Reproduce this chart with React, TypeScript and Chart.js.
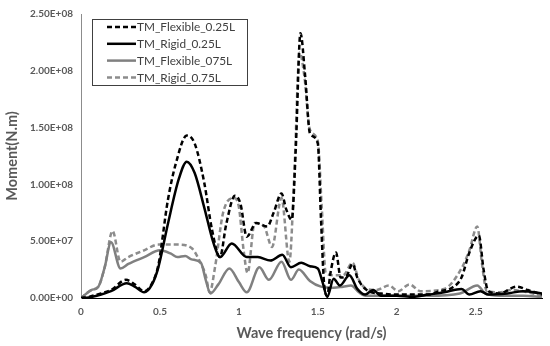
import { useEffect, useRef } from "react";
import { Chart, registerables } from "chart.js";

Chart.register(...registerables);

// Frequencies (rad/s) and moments (in units of 1e7 N.m)
const flex025Freq = [0, 0.05, 0.1, 0.19, 0.285, 0.34, 0.4, 0.45, 0.49, 0.55, 0.6, 0.67, 0.72, 0.78, 0.83, 0.88, 0.92, 0.975, 1.01, 1.05, 1.11, 1.18, 1.22, 1.27, 1.3, 1.335, 1.36, 1.39, 1.42, 1.45, 1.5, 1.52, 1.54, 1.56, 1.58, 1.615, 1.645, 1.68, 1.72, 1.75, 1.81, 1.9, 2.0, 2.1, 2.2, 2.27, 2.35, 2.41, 2.46, 2.52, 2.55, 2.58, 2.65, 2.76, 2.83, 2.92];
const flex025Vals = [0, 0.1, 0.3, 0.7, 1.6, 1.2, 0.6, 1.3, 2.9, 8.6, 11.8, 14.3, 13.6, 10.2, 6.0, 3.6, 6.5, 9.0, 8.3, 5.4, 6.6, 6.3, 7.5, 9.2, 7.8, 6.9, 13.0, 23.3, 19.5, 14.5, 13.6, 7.0, 1.2, 0.2, 2.2, 4.0, 1.8, 1.9, 3.0, 1.8, 0.7, 0.4, 0.3, 0.3, 0.3, 0.6, 0.9, 1.8, 4.0, 5.5, 2.5, 0.6, 0.4, 1.0, 0.7, 0.3];

const rigid025Freq = [0, 0.05, 0.1, 0.19, 0.29, 0.34, 0.4, 0.45, 0.49, 0.55, 0.62, 0.67, 0.72, 0.78, 0.84, 0.88, 0.955, 1.05, 1.12, 1.2, 1.275, 1.33, 1.395, 1.45, 1.5, 1.53, 1.56, 1.6, 1.64, 1.7, 1.75, 1.8, 1.85, 1.9, 2.0, 2.1, 2.2, 2.3, 2.41, 2.46, 2.53, 2.58, 2.7, 2.8, 2.92];
const rigid025Vals = [0, 0.05, 0.2, 0.6, 1.3, 1.0, 0.5, 1.2, 2.7, 6.5, 10.5, 12.0, 11.0, 8.0, 4.8, 3.6, 4.8, 3.6, 3.6, 3.3, 3.8, 2.7, 3.1, 2.8, 2.6, 1.4, 0.1, 1.7, 1.1, 2.0, 0.8, 0.3, 0.7, 0.2, 0.2, 0.1, 0.3, 0.5, 0.8, 0.3, 0.6, 0.3, 0.4, 0.6, 0.4];

const flex075Freq = [0, 0.065, 0.11, 0.15, 0.19, 0.25, 0.3, 0.4, 0.5, 0.57, 0.61, 0.66, 0.7, 0.76, 0.79, 0.82, 0.87, 0.94, 1.0, 1.05, 1.13, 1.19, 1.27, 1.33, 1.38, 1.45, 1.52, 1.6, 1.66, 1.71, 1.76, 1.8, 1.9, 2.0, 2.2, 2.4, 2.51, 2.56, 2.65, 2.8, 2.92];
const flex075Vals = [0, 0.7, 1.0, 2.7, 4.9, 2.6, 3.0, 3.6, 4.2, 3.9, 3.6, 3.7, 3.4, 3.1, 1.6, 0.4, 1.2, 2.6, 1.4, 0.5, 2.7, 1.6, 3.2, 1.6, 2.5, 1.5, 1.0, 0.9, 1.0, 1.1, 0.5, 0.2, 0.2, 0.2, 0.2, 0.4, 1.1, 0.4, 0.2, 0.2, 0.1];

const rigid075Freq = [0, 0.065, 0.11, 0.15, 0.2, 0.25, 0.3, 0.4, 0.49, 0.61, 0.7, 0.75, 0.79, 0.815, 0.85, 0.9, 0.97, 1.0, 1.03, 1.055, 1.1, 1.16, 1.21, 1.27, 1.32, 1.35, 1.385, 1.415, 1.45, 1.5, 1.525, 1.55, 1.6, 1.66, 1.72, 1.76, 1.81, 1.87, 1.95, 2.01, 2.08, 2.15, 2.3, 2.41, 2.46, 2.51, 2.54, 2.57, 2.65, 2.73, 2.83, 2.92];
const rigid075Vals = [0, 0.7, 1.0, 2.7, 5.9, 3.2, 3.6, 4.2, 4.7, 4.7, 4.4, 3.3, 2.0, 0.5, 2.8, 7.5, 8.8, 8.0, 4.2, 2.2, 6.6, 6.3, 4.5, 8.8, 3.2, 10.5, 21.6, 19.5, 14.8, 13.8, 8.0, 2.2, 2.0, 2.0, 3.1, 1.6, 0.8, 0.7, 1.1, 0.6, 1.2, 0.6, 0.8, 2.6, 4.2, 6.3, 3.0, 0.6, 0.5, 0.7, 0.5, 0.2];

const seriesNames = ["TM_Flexible_0.25L", "TM_Rigid_0.25L", "TM_Flexible_075L", "TM_Rigid_0.75L"];
const yTicks = [0, 5e7, 1e8, 1.5e8, 2e8, 2.5e8];
const xTicks = [0, 0.5, 1, 1.5, 2, 2.5];

const UNIT = 1e7;
const toPoints = (fs: number[], vs: number[]) => fs.map((f, i) => ({ x: f, y: vs[i] * UNIT }));

const fmtSci = (v: number) => {
  const [m, e] = v.toExponential(2).split("e");
  const n = parseInt(e, 10);
  const sign = n < 0 ? "-" : "+";
  const a = Math.abs(n);
  return `${m}E${sign}${a < 10 ? "0" + a : a}`;
};

const FONT = "Lato, 'Open Sans', 'Liberation Sans', sans-serif";

const boxLegend = {
  id: "boxLegend",
  afterDraw(chart: any) {
    const ctx = chart.ctx as CanvasRenderingContext2D;
    const x0 = 92, y0 = 19, w = 155, h = 66;
    ctx.save();
    ctx.fillStyle = "#ffffff";
    ctx.fillRect(x0, y0, w, h);
    ctx.strokeStyle = "#404040";
    ctx.lineWidth = 1;
    ctx.setLineDash([]);
    ctx.strokeRect(x0 + 0.5, y0 + 0.5, w, h);
    // fit the font so that the longest label spans about 98px, as in the reference
    ctx.font = `10px ${FONT}`;
    const base = ctx.measureText(seriesNames[0]).width || 80;
    const size = Math.min(14, (10 * 98) / base);
    chart.data.datasets.forEach((ds: any, i: number) => {
      const y = y0 + 8 + i * 16.8;
      ctx.beginPath();
      ctx.strokeStyle = ds.borderColor;
      ctx.lineWidth = ds.borderWidth;
      ctx.setLineDash(ds.borderDash || []);
      ctx.moveTo(107, y);
      ctx.lineTo(136, y);
      ctx.stroke();
      ctx.setLineDash([]);
      ctx.fillStyle = "#404040";
      ctx.font = `${size}px ${FONT}`;
      ctx.textBaseline = "middle";
      ctx.textAlign = "left";
      ctx.fillText(ds.label, 137, y + 0.5);
    });
    ctx.restore();
  },
};

export default function App() {
  const ref = useRef<HTMLCanvasElement | null>(null);
  useEffect(() => {
    document.body.style.margin = "0";
    const canvas = ref.current;
    if (!canvas) return;
    const chart = new Chart(canvas, {
      type: "line",
      data: {
        datasets: [
          { label: seriesNames[0], data: toPoints(flex025Freq, flex025Vals), borderColor: "#000000", borderWidth: 2.5, borderDash: [5, 3] },
          { label: seriesNames[1], data: toPoints(rigid025Freq, rigid025Vals), borderColor: "#000000", borderWidth: 2.5 },
          { label: seriesNames[2], data: toPoints(flex075Freq, flex075Vals), borderColor: "#808080", borderWidth: 2.5 },
          { label: seriesNames[3], data: toPoints(rigid075Freq, rigid075Vals), borderColor: "#8c8c8c", borderWidth: 2.5, borderDash: [5, 3] },
        ] as any,
      },
      options: {
        animation: false,
        responsive: false,
        maintainAspectRatio: false,
        layout: { padding: { top: 14, right: 8, left: 0, bottom: 0 } },
        elements: {
          point: { radius: 0 },
          line: { cubicInterpolationMode: "monotone", fill: false },
        },
        plugins: {
          legend: { display: false },
          tooltip: { enabled: false },
        },
        scales: {
          x: {
            type: "linear",
            min: 0,
            max: 2.92,
            afterBuildTicks: (s: any) => { s.ticks = xTicks.map((v) => ({ value: v })); },
            afterFit: (s: any) => { s.height = 48; },
            grid: { display: false, drawTicks: false },
            border: { display: true, color: "#000000", width: 1 },
            ticks: {
              color: "#595959",
              font: { family: FONT, size: 10, weight: "bold" },
              padding: 8,
              maxRotation: 0,
              callback: (v: any) => String(v),
            },
            title: {
              display: true,
              text: "Wave frequency (rad/s)",
              color: "#595959",
              font: { family: FONT, size: 14.5, weight: "bold" },
              padding: { top: 2 },
            },
          },
          y: {
            min: 0,
            max: 2.5e8,
            afterBuildTicks: (s: any) => { s.ticks = yTicks.map((v) => ({ value: v })); },
            afterFit: (s: any) => { s.width = 81; },
            grid: { display: false, drawTicks: false },
            border: { display: true, color: "#8c8c8c", width: 1 },
            ticks: {
              color: "#595959",
              font: { family: FONT, size: 10, weight: "bold" },
              padding: 8,
              callback: (v: any) => fmtSci(Number(v)),
            },
            title: {
              display: true,
              text: "Moment(N.m)",
              color: "#595959",
              font: { family: FONT, size: 14.5, weight: "bold" },
              padding: { bottom: 0 },
            },
          },
        },
      },
      plugins: [boxLegend],
    });
    return () => chart.destroy();
  }, []);
  return (
    <div style={{ width: 550, height: 346 }}>
      <canvas ref={ref} width={550} height={346} style={{ display: "block", width: 550, height: 346 }} />
    </div>
  );
}
